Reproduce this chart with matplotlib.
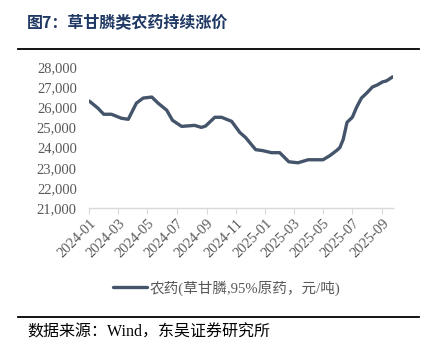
import matplotlib
matplotlib.use("Agg")
import matplotlib.pyplot as plt
import matplotlib.dates as mdates
from matplotlib.ticker import FuncFormatter, FixedLocator
import pandas as pd

dates = ["2024-01-01", "2024-01-19", "2024-01-31", "2024-02-16", "2024-03-08", "2024-03-22",
         "2024-04-08", "2024-04-22", "2024-05-10", "2024-05-23", "2024-06-10", "2024-06-22",
         "2024-07-11", "2024-08-07", "2024-08-21", "2024-08-30", "2024-09-18", "2024-10-02",
         "2024-10-23", "2024-11-09", "2024-11-21", "2024-12-12", "2024-12-27", "2025-01-14",
         "2025-01-31", "2025-02-19", "2025-03-10", "2025-03-31", "2025-05-01", "2025-05-15",
         "2025-05-29", "2025-06-05", "2025-06-12", "2025-06-20", "2025-07-01", "2025-07-10",
         "2025-07-20", "2025-07-31", "2025-08-12", "2025-08-22", "2025-09-02", "2025-09-10",
         "2025-09-23"]
prices = [26300, 25950, 25650, 25650, 25450, 25400,
          26200, 26450, 26500, 26200, 25850, 25350,
          25050, 25100, 25000, 25070, 25500, 25500,
          25300, 24750, 24500, 23900, 23850, 23750,
          23750, 23300, 23250, 23400, 23400, 23600,
          23850, 24000, 24400, 25250, 25500, 26000,
          26450, 26700, 27000, 27100, 27250, 27300,
          27500]
tick_labels = ["2024-01", "2024-03", "2024-05", "2024-07", "2024-09", "2024-11",
               "2025-01", "2025-03", "2025-05", "2025-07", "2025-09"]
y_ticks = [21000, 22000, 23000, 24000, 25000, 26000, 27000, 28000]

series_name = "农药(草甘膦,95%原药，元/吨)"
title = "图7：草甘膦类农药持续涨价"
source = "数据来源：Wind，东吴证券研究所"

serif_cjk = ["Liberation Serif", "Noto Sans CJK SC"]
cjk = ["Noto Sans CJK SC", "DejaVu Sans"]

x = pd.to_datetime(dates)

fig = plt.figure(figsize=(4.36, 3.53), dpi=100)
ax = fig.add_axes([0.2048, 0.4099, 0.6959, 0.4011])

line_color = "#44546A"
ax.plot(x, prices, color=line_color, lw=2.4, solid_joinstyle="round", solid_capstyle="round")

ax.set_xlim(pd.Timestamp("2024-01-01"), x[-1])
ax.set_ylim(21000, 28000)
ax.set_yticks(y_ticks)
ax.yaxis.set_major_formatter(FuncFormatter(lambda v, p: f"{int(v):,}"))

xt = [mdates.date2num(pd.Timestamp(t + "-01")) for t in tick_labels]
ax.xaxis.set_major_locator(FixedLocator(xt))
ax.set_xticklabels(tick_labels)

for s in ["top", "right", "left"]:
    ax.spines[s].set_visible(False)
ax.spines["bottom"].set_color("#D9D9D9")
ax.spines["bottom"].set_linewidth(1.0)

ax.tick_params(axis="y", length=0, pad=9, labelsize=10.5, labelcolor="#595959")
ax.tick_params(axis="x", length=4, width=0.8, color="#D9D9D9", direction="out",
               labelsize=10.5, labelcolor="#595959", pad=2)
for lab in ax.get_yticklabels():
    lab.set_family(serif_cjk)
for lab in ax.get_xticklabels():
    lab.set_family(serif_cjk)
    lab.set_rotation(45)
    lab.set_ha("right")
    lab.set_va("top")
    lab.set_rotation_mode("anchor")

# legend
leg = ax.legend([series_name], loc="upper center", bbox_to_anchor=(0.454, -0.415),
                frameon=False, handlelength=2.3, handletextpad=0.2,
                prop={"family": serif_cjk, "size": 10.5})
for t in leg.get_texts():
    t.set_color("#595959")

# title & decoration
fig.text(27 / 436, 1 - 22 / 353, title, family=cjk, fontsize=11.5, fontweight="bold",
         color="#1F3864", va="center", ha="left")
fig.add_artist(plt.Line2D([18 / 436, 419 / 436], [1 - 49 / 353, 1 - 49 / 353],
                          color="black", lw=1.3, transform=fig.transFigure))
fig.add_artist(plt.Line2D([18 / 436, 419 / 436], [1 - 317 / 353, 1 - 317 / 353],
                          color="black", lw=1.3, transform=fig.transFigure))
fig.text(27 / 436, 1 - 333 / 353, source, family=serif_cjk, fontsize=11.5,
         color="black", va="center", ha="left")

fig.savefig("out.png", dpi=100)
